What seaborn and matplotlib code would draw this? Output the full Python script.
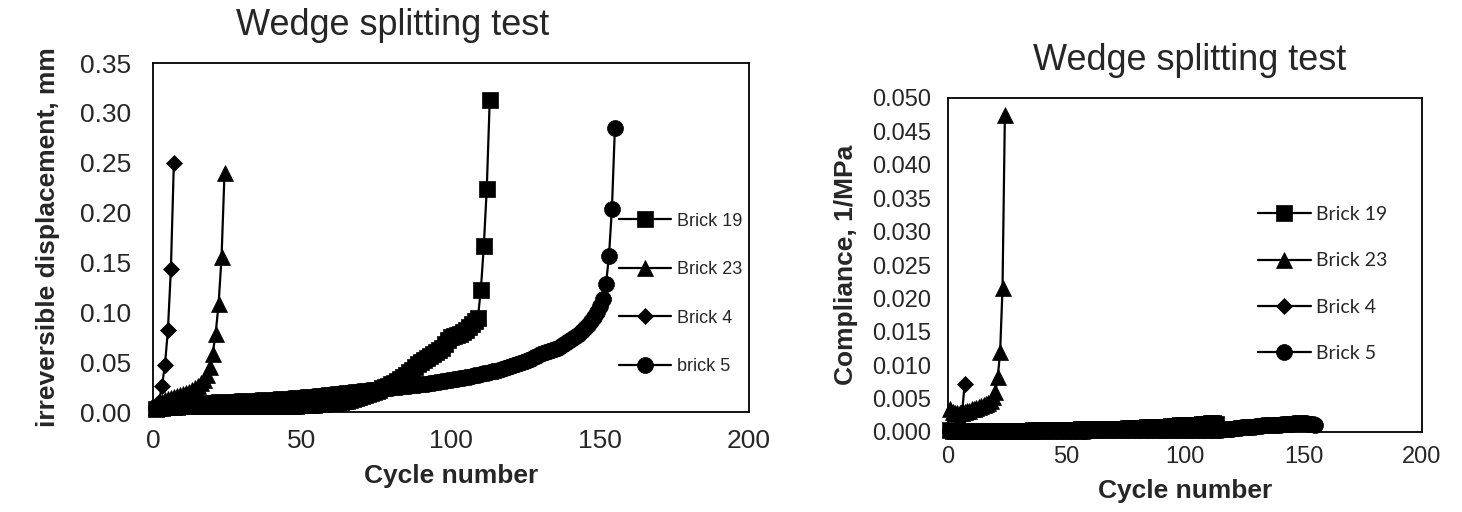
import numpy as np
import pandas as pd
import matplotlib
matplotlib.use("Agg")
import matplotlib.pyplot as plt
import seaborn as sns

# ---------------- data ----------------
labels_left = ["Brick 19", "Brick 23", "Brick 4", "brick 5"]
labels_right = ["Brick 19", "Brick 23", "Brick 4", "Brick 5"]
x_ticks = [0, 50, 100, 150, 200]
y_ticks_left = [0.00, 0.05, 0.10, 0.15, 0.20, 0.25, 0.30, 0.35]
y_ticks_right = [0.000, 0.005, 0.010, 0.015, 0.020, 0.025, 0.030, 0.035, 0.040, 0.045, 0.050]

# irreversible displacement (mm)
disp_b19 = [0.003, 0.004, 0.004, 0.005, 0.005, 0.005, 0.005, 0.005, 0.006, 0.006,
            0.006, 0.006, 0.006, 0.006, 0.006, 0.006, 0.006, 0.006, 0.006, 0.006,
            0.006, 0.006, 0.006, 0.006, 0.006, 0.006, 0.006, 0.006, 0.006, 0.006,
            0.006, 0.006, 0.006, 0.006, 0.006, 0.006, 0.006, 0.006, 0.006, 0.006,
            0.006, 0.006, 0.006, 0.006, 0.006, 0.006, 0.006, 0.006, 0.007, 0.007,
            0.007, 0.007, 0.007, 0.007, 0.008, 0.008, 0.008, 0.008, 0.009, 0.009,
            0.009, 0.010, 0.010, 0.011, 0.011, 0.012, 0.013, 0.014, 0.015, 0.016,
            0.017, 0.018, 0.019, 0.020, 0.021, 0.022, 0.024, 0.025, 0.026, 0.028,
            0.029, 0.031, 0.033, 0.035, 0.037, 0.040, 0.042, 0.045, 0.048, 0.050,
            0.052, 0.054, 0.056, 0.058, 0.060, 0.062, 0.064, 0.068, 0.072, 0.075,
            0.076, 0.077, 0.078, 0.080, 0.082, 0.085, 0.088, 0.091, 0.094, 0.122,
            0.166, 0.224, 0.313]
disp_b23 = [0.005, 0.008, 0.010, 0.012, 0.013, 0.014, 0.015, 0.016, 0.017, 0.018,
            0.019, 0.020, 0.022, 0.024, 0.026, 0.029, 0.032, 0.037, 0.045, 0.058,
            0.078, 0.108, 0.155, 0.240]
disp_b4 = [0.005, 0.010, 0.026, 0.047, 0.082, 0.143, 0.250]
disp_b5 = [0.004, 0.005, 0.006, 0.006, 0.007, 0.007, 0.007, 0.008, 0.008, 0.008,
           0.008, 0.008, 0.009, 0.009, 0.009, 0.009, 0.009, 0.009, 0.009, 0.010,
           0.010, 0.010, 0.010, 0.010, 0.010, 0.010, 0.010, 0.011, 0.011, 0.011,
           0.011, 0.011, 0.011, 0.011, 0.012, 0.012, 0.012, 0.012, 0.012, 0.012,
           0.013, 0.013, 0.013, 0.013, 0.013, 0.014, 0.014, 0.014, 0.014, 0.015,
           0.015, 0.015, 0.015, 0.016, 0.016, 0.016, 0.017, 0.017, 0.017, 0.018,
           0.018, 0.018, 0.019, 0.019, 0.019, 0.020, 0.020, 0.020, 0.021, 0.021,
           0.021, 0.022, 0.022, 0.022, 0.023, 0.023, 0.023, 0.024, 0.024, 0.024,
           0.025, 0.025, 0.025, 0.026, 0.026, 0.026, 0.027, 0.027, 0.027, 0.028,
           0.028, 0.028, 0.029, 0.029, 0.030, 0.030, 0.031, 0.031, 0.032, 0.032,
           0.033, 0.033, 0.034, 0.034, 0.035, 0.035, 0.036, 0.037, 0.037, 0.038,
           0.039, 0.039, 0.040, 0.041, 0.041, 0.042, 0.043, 0.044, 0.045, 0.046,
           0.047, 0.048, 0.049, 0.050, 0.051, 0.052, 0.053, 0.055, 0.056, 0.058,
           0.059, 0.060, 0.061, 0.062, 0.063, 0.064, 0.066, 0.068, 0.070, 0.072,
           0.074, 0.076, 0.078, 0.081, 0.084, 0.087, 0.091, 0.095, 0.100, 0.106,
           0.113, 0.128, 0.156, 0.204, 0.285]

# compliance (1/MPa)
comp_b19 = [0.0003, 0.0002, 0.0002, 0.0002, 0.0002, 0.0002, 0.0002, 0.0002, 0.0002, 0.0002,
            0.0002, 0.0002, 0.0002, 0.0002, 0.0002, 0.0002, 0.0002, 0.0002, 0.0002, 0.0002,
            0.0002, 0.0002, 0.0002, 0.0002, 0.0002, 0.0002, 0.0002, 0.0002, 0.0002, 0.0002,
            0.0002, 0.0002, 0.0002, 0.0002, 0.0002, 0.0003, 0.0003, 0.0003, 0.0003, 0.0003,
            0.0003, 0.0003, 0.0003, 0.0003, 0.0003, 0.0003, 0.0003, 0.0003, 0.0003, 0.0003,
            0.0003, 0.0003, 0.0003, 0.0003, 0.0003, 0.0004, 0.0004, 0.0004, 0.0004, 0.0004,
            0.0004, 0.0004, 0.0004, 0.0004, 0.0004, 0.0005, 0.0005, 0.0005, 0.0005, 0.0005,
            0.0005, 0.0005, 0.0005, 0.0005, 0.0005, 0.0006, 0.0006, 0.0006, 0.0006, 0.0006,
            0.0006, 0.0006, 0.0006, 0.0007, 0.0007, 0.0007, 0.0007, 0.0007, 0.0008, 0.0008,
            0.0008, 0.0008, 0.0008, 0.0009, 0.0009, 0.0009, 0.0009, 0.0010, 0.0010, 0.0010,
            0.0010, 0.0010, 0.0011, 0.0011, 0.0011, 0.0011, 0.0012, 0.0012, 0.0012, 0.0012,
            0.0013, 0.0013, 0.0012]
comp_b23 = [0.0035, 0.0030, 0.0028, 0.0028, 0.0028, 0.0029, 0.0030, 0.0031, 0.0032, 0.0034,
            0.0035, 0.0036, 0.0037, 0.0039, 0.0040, 0.0042, 0.0044, 0.0047, 0.0052, 0.0060,
            0.0082, 0.0120, 0.0215, 0.0475]
comp_b4 = [0.0001, 0.0002, 0.0003, 0.0005, 0.0010, 0.0030, 0.0072]
comp_b5 = [0.0001, 0.0001, 0.0001, 0.0001, 0.0001, 0.0001, 0.0001, 0.0001, 0.0001, 0.0001,
           0.0001, 0.0001, 0.0001, 0.0001, 0.0001, 0.0002, 0.0002, 0.0002, 0.0002, 0.0002,
           0.0002, 0.0002, 0.0002, 0.0002, 0.0002, 0.0002, 0.0002, 0.0002, 0.0002, 0.0002,
           0.0002, 0.0002, 0.0002, 0.0002, 0.0002, 0.0002, 0.0002, 0.0002, 0.0002, 0.0002,
           0.0002, 0.0002, 0.0002, 0.0002, 0.0002, 0.0002, 0.0002, 0.0002, 0.0002, 0.0002,
           0.0002, 0.0002, 0.0002, 0.0002, 0.0002, 0.0002, 0.0002, 0.0002, 0.0002, 0.0003,
           0.0003, 0.0003, 0.0003, 0.0003, 0.0003, 0.0003, 0.0003, 0.0003, 0.0003, 0.0003,
           0.0003, 0.0003, 0.0003, 0.0003, 0.0003, 0.0003, 0.0003, 0.0003, 0.0003, 0.0003,
           0.0003, 0.0003, 0.0003, 0.0003, 0.0003, 0.0003, 0.0003, 0.0003, 0.0003, 0.0003,
           0.0003, 0.0003, 0.0003, 0.0003, 0.0003, 0.0003, 0.0003, 0.0003, 0.0003, 0.0003,
           0.0003, 0.0003, 0.0003, 0.0003, 0.0003, 0.0003, 0.0003, 0.0003, 0.0003, 0.0003,
           0.0003, 0.0003, 0.0003, 0.0003, 0.0003, 0.0004, 0.0004, 0.0005, 0.0005, 0.0005,
           0.0006, 0.0006, 0.0006, 0.0007, 0.0007, 0.0007, 0.0008, 0.0008, 0.0008, 0.0009,
           0.0009, 0.0009, 0.0010, 0.0010, 0.0010, 0.0010, 0.0011, 0.0011, 0.0011, 0.0011,
           0.0012, 0.0012, 0.0012, 0.0012, 0.0012, 0.0013, 0.0013, 0.0013, 0.0013, 0.0013,
           0.0013, 0.0012, 0.0012, 0.0012, 0.0011]

# ---------------- style ----------------
sns.set_style("white")
plt.rcParams['font.family'] = ['Liberation Sans', 'DejaVu Sans']

W, H = 1462, 512
fig = plt.figure(figsize=(W / 100, H / 100), dpi=100)

def px_axes(x0, y0, x1, y1):
    return fig.add_axes([x0 / W, 1 - y1 / H, (x1 - x0) / W, (y1 - y0) / H])

ax1 = px_axes(153, 63, 749, 412)
ax2 = px_axes(948, 98, 1422, 432)

markers = ['s', '^', 'D', 'o']
msizes = [11, 11, 8.5, 11.5]

def draw(ax, series, labels):
    for (vals, lab, mk, ms) in zip(series, labels, markers, msizes):
        df = pd.DataFrame({"cycle": np.arange(1, len(vals) + 1), "value": vals})
        sns.lineplot(data=df, x="cycle", y="value", ax=ax, color="black",
                     marker=mk, markersize=ms, markeredgecolor="black",
                     markerfacecolor="black", markeredgewidth=0.5,
                     linewidth=1.6, label=lab, clip_on=False, sort=False)

draw(ax1, [disp_b19, disp_b23, disp_b4, disp_b5], labels_left)
draw(ax2, [comp_b19, comp_b23, comp_b4, comp_b5], labels_right)

for ax in (ax1, ax2):
    ax.set_xlim(0, 200)
    ax.set_xticks(x_ticks)
    ax.tick_params(length=0)
    for sp in ax.spines.values():
        sp.set_visible(True)
        sp.set_color("black")
        sp.set_linewidth(1.3)

ax1.set_ylim(0, 0.35)
ax1.set_yticks(y_ticks_left)
ax1.set_yticklabels([f"{v:.2f}" for v in y_ticks_left])
ax1.set_xticklabels([str(v) for v in x_ticks])
ax1.tick_params(axis='both', labelsize=19)
ax1.tick_params(axis='y', pad=16)
ax1.tick_params(axis='x', pad=12)

ax2.set_ylim(0, 0.050)
ax2.set_yticks(y_ticks_right)
ax2.set_yticklabels([f"{v:.3f}" for v in y_ticks_right])
ax2.set_xticklabels([str(v) for v in x_ticks])
ax2.tick_params(axis='both', labelsize=17)
ax2.tick_params(axis='y', pad=12)
ax2.tick_params(axis='x', pad=10)

ax1.set_xlabel("Cycle number", fontsize=19, fontweight='bold', labelpad=8)
ax1.set_ylabel("irreversible displacement, mm", fontsize=19, fontweight='bold', labelpad=14)
ax2.set_xlabel("Cycle number", fontsize=19, fontweight='bold', labelpad=8)
ax2.set_ylabel("Compliance, 1/MPa", fontsize=19, fontweight='bold', labelpad=10)

fig.text(393 / W, 1 - 35 / H, "Wedge splitting test", fontsize=26, ha='center', va='baseline')
fig.text(1190 / W, 1 - 70 / H, "Wedge splitting test", fontsize=26, ha='center', va='baseline')

leg1 = ax1.legend(loc='center left', bbox_to_anchor=(619 / W, 1 - 294 / H),
                  bbox_transform=fig.transFigure, frameon=False, fontsize=13,
                  handlelength=2.9, handletextpad=0.3, labelspacing=1.75,
                  borderpad=0, borderaxespad=0)
leg2 = ax2.legend(loc='center left', bbox_to_anchor=(1258 / W, 1 - 284 / H),
                  bbox_transform=fig.transFigure, frameon=False,
                  prop={'family': ['Lato', 'DejaVu Sans'], 'size': 14},
                  handlelength=2.7, handletextpad=0.3, labelspacing=1.5,
                  borderpad=0, borderaxespad=0)

fig.savefig("out.png", dpi=100)
